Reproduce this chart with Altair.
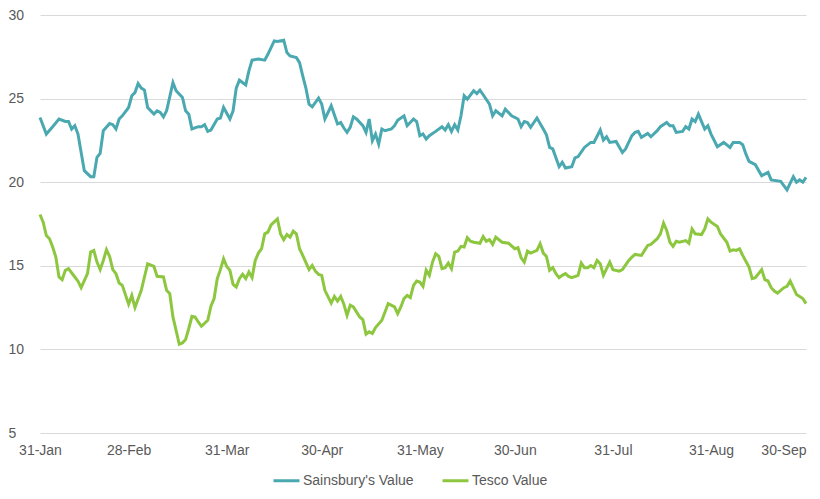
import altair as alt
import pandas as pd

# Days after 31-Jan, and values
sains_days = [0, 2, 4, 6, 8, 9, 10, 11, 12, 14, 16, 17, 18, 19, 20, 22, 23, 24, 25, 26, 28, 29, 30, 31, 32, 33, 34, 36, 37, 38, 39, 40, 42, 43, 45, 46, 47, 48, 50, 51, 52, 53, 54, 56, 57, 58, 60, 61, 62, 63, 65, 66, 67, 69, 71, 72, 74, 75, 77, 78, 79, 81, 82, 83, 84, 85, 86, 88, 89, 90, 91, 92, 94, 95, 96, 97, 98, 99, 100, 102, 103, 104, 105, 106, 107, 108, 109, 111, 112, 113, 115, 116, 118, 119, 120, 121, 122, 123, 125, 127, 128, 129, 130, 131, 132, 133, 134, 135, 137, 138, 139, 140, 142, 143, 144, 146, 147, 149, 151, 152, 153, 154, 155, 157, 159, 160, 161, 162, 164, 165, 166, 168, 169, 170, 172, 174, 175, 177, 178, 179, 180, 182, 184, 185, 187, 188, 189, 190, 192, 193, 195, 196, 198, 199, 200, 201, 203, 204, 205, 206, 207, 208, 210, 211, 212, 214, 216, 218, 219, 221, 222, 223, 224, 226, 228, 230, 231, 234, 236, 238, 239, 240, 241, 242]
sains_vals = [23.87, 22.88, 23.32, 23.78, 23.63, 23.63, 23.18, 23.38, 22.88, 20.69, 20.33, 20.33, 21.49, 21.72, 23.08, 23.51, 23.44, 23.18, 23.78, 23.97, 24.47, 25.17, 25.36, 25.90, 25.63, 25.51, 24.47, 24.07, 24.27, 24.17, 23.91, 24.27, 25.96, 25.47, 25.07, 24.27, 24.07, 23.18, 23.32, 23.32, 23.44, 23.04, 23.12, 23.78, 23.84, 24.47, 23.78, 24.27, 25.63, 26.10, 25.82, 26.66, 27.30, 27.36, 27.30, 27.65, 28.45, 28.41, 28.49, 27.75, 27.55, 27.45, 27.15, 26.36, 25.63, 24.67, 24.51, 25.03, 24.67, 23.78, 24.17, 24.57, 23.48, 23.57, 23.24, 22.98, 23.28, 23.91, 23.78, 23.38, 22.98, 23.78, 22.48, 22.88, 22.28, 23.18, 23.08, 23.18, 23.38, 23.71, 23.97, 23.38, 23.78, 23.63, 22.78, 22.88, 22.58, 22.78, 23.04, 23.32, 23.12, 23.44, 23.04, 23.44, 23.12, 23.97, 25.17, 24.97, 25.47, 25.30, 25.51, 25.23, 24.67, 23.97, 24.27, 23.97, 24.37, 23.97, 23.78, 23.32, 23.63, 23.57, 23.28, 23.84, 23.18, 22.83, 22.08, 21.99, 20.93, 21.19, 20.85, 20.93, 21.45, 21.53, 22.08, 22.38, 22.38, 23.12, 22.52, 22.72, 22.38, 22.44, 21.78, 21.99, 22.78, 22.98, 23.04, 22.68, 22.92, 22.72, 23.08, 23.32, 23.57, 23.38, 23.38, 22.98, 23.04, 23.32, 23.18, 23.78, 23.63, 24.07, 23.18, 23.38, 22.88, 22.12, 22.38, 22.08, 22.38, 22.38, 22.24, 21.69, 21.25, 21.05, 20.39, 20.59, 20.14, 20.05, 19.54, 20.33, 20.00, 20.14, 20.00, 20.29]

tesco_days = [0, 1, 2, 3, 4, 5, 6, 7, 8, 9, 11, 12, 13, 15, 16, 17, 18, 19, 20, 21, 22, 23, 24, 25, 26, 28, 29, 30, 32, 33, 34, 36, 37, 39, 40, 41, 42, 44, 45, 46, 47, 48, 49, 50, 51, 53, 54, 55, 56, 57, 58, 59, 60, 61, 62, 63, 64, 65, 66, 67, 68, 69, 70, 71, 72, 73, 75, 76, 77, 78, 79, 80, 81, 82, 83, 85, 86, 87, 88, 89, 90, 92, 93, 94, 95, 96, 97, 98, 99, 101, 102, 103, 104, 105, 106, 108, 109, 110, 112, 113, 114, 115, 116, 117, 118, 119, 120, 121, 122, 123, 124, 125, 126, 127, 128, 129, 130, 131, 132, 133, 134, 135, 136, 137, 139, 140, 141, 142, 143, 144, 146, 148, 150, 151, 152, 153, 154, 155, 157, 158, 159, 160, 161, 162, 163, 164, 165, 166, 167, 168, 170, 171, 172, 173, 174, 175, 176, 177, 178, 180, 181, 183, 184, 186, 187, 188, 190, 191, 192, 193, 195, 196, 197, 198, 199, 200, 201, 202, 204, 205, 206, 207, 209, 210, 211, 212, 214, 215, 217, 218, 219, 220, 221, 222, 224, 225, 226, 228, 229, 230, 231, 232, 233, 235, 236, 237, 238, 239, 241, 242]
tesco_vals = [18.07, 17.61, 16.81, 16.62, 16.12, 15.52, 14.33, 14.17, 14.73, 14.83, 14.33, 14.08, 13.69, 14.53, 15.82, 15.92, 15.22, 14.77, 15.32, 15.96, 15.56, 14.77, 14.53, 13.97, 13.83, 12.70, 13.23, 12.50, 13.53, 14.33, 15.12, 14.96, 14.37, 14.33, 13.53, 13.33, 11.94, 10.31, 10.39, 10.59, 11.25, 11.98, 11.94, 11.64, 11.38, 11.74, 12.58, 13.04, 14.23, 14.77, 15.42, 14.96, 14.73, 13.89, 13.73, 14.23, 14.49, 14.23, 14.63, 14.29, 15.32, 15.76, 16.02, 16.91, 17.01, 17.45, 17.81, 16.91, 16.56, 16.87, 16.71, 17.07, 16.91, 16.02, 15.62, 14.77, 15.02, 14.68, 14.49, 14.43, 13.53, 12.77, 13.17, 12.89, 13.17, 12.70, 12.04, 12.64, 12.54, 11.94, 11.78, 10.91, 11.05, 10.95, 11.31, 11.74, 12.24, 12.74, 12.54, 12.14, 12.54, 13.04, 13.23, 13.10, 13.83, 14.09, 14.03, 13.77, 14.73, 14.43, 15.22, 15.72, 15.56, 14.83, 14.89, 15.16, 14.83, 15.82, 15.88, 16.16, 16.12, 16.68, 16.47, 16.41, 16.35, 16.75, 16.47, 16.56, 16.28, 16.71, 16.41, 16.35, 16.02, 16.08, 15.48, 15.22, 15.88, 15.76, 15.92, 16.32, 15.76, 15.56, 14.73, 14.89, 14.53, 14.29, 14.43, 14.53, 14.37, 14.29, 14.43, 15.16, 14.89, 14.89, 15.02, 14.89, 15.32, 15.12, 14.43, 15.22, 14.77, 14.68, 14.77, 15.32, 15.52, 15.68, 15.62, 15.92, 16.22, 16.28, 16.62, 16.91, 17.55, 17.11, 16.41, 16.16, 16.47, 16.41, 16.51, 16.35, 17.20, 16.91, 16.87, 17.20, 17.81, 17.61, 17.35, 16.91, 16.41, 15.88, 15.96, 15.92, 16.02, 15.62, 14.92, 14.23, 14.29, 14.77, 14.17, 14.09, 13.69, 13.49, 13.37, 13.69, 13.77, 14.09, 13.69, 13.29, 13.04, 12.74]

series_names = ["Sainsbury's Value", "Tesco Value"]
series_colors = ["#4AA8B0", "#8DC63F"]
start_date = "2014-01-31"
tick_dates = ["2014-01-31", "2014-02-28", "2014-03-31", "2014-04-30", "2014-05-31",
              "2014-06-30", "2014-07-31", "2014-08-31", "2014-09-30"]
y_ticks = [5, 10, 15, 20, 25, 30]

start = pd.Timestamp(start_date)
rows = []
for d, v in zip(sains_days, sains_vals):
    rows.append({"date": start + pd.Timedelta(days=d), "value": v, "series": series_names[0]})
for d, v in zip(tesco_days, tesco_vals):
    rows.append({"date": start + pd.Timedelta(days=d), "value": v, "series": series_names[1]})
df = pd.DataFrame(rows)

def dt(s):
    t = pd.Timestamp(s)
    return alt.DateTime(year=t.year, month=t.month, date=t.day)

font = "Liberation Sans"
grey = "#595959"
last_month = pd.Timestamp(tick_dates[-1]).month - 1  # JS months are 0-based

chart = alt.Chart(df).mark_line(strokeWidth=3).encode(
    x=alt.X("date:T",
            scale=alt.Scale(domain=[dt(tick_dates[0]), dt(tick_dates[-1])]),
            axis=alt.Axis(title=None, values=[dt(s) for s in tick_dates], format="%d-%b",
                          grid=False, domain=False, ticks=False, labelPadding=10,
                          labelFontSize=14, labelColor=grey, labelFont=font,
                          labelOverlap=False, labelFlush=False,
                          labelAlign={"condition": {"test": f"month(datum.value) == {last_month}",
                                                    "value": "right"},
                                      "value": "center"})),
    y=alt.Y("value:Q",
            scale=alt.Scale(domain=[5, 30], nice=False, zero=False),
            axis=alt.Axis(title=None, values=y_ticks, grid=True, gridColor="#D9D9D9",
                          gridWidth=1, domain=False, ticks=False, labelAlign="left",
                          labelPadding=32, labelFontSize=14, labelColor=grey,
                          labelFont=font, labelBaseline="middle")),
    color=alt.Color("series:N",
                    scale=alt.Scale(domain=series_names, range=series_colors),
                    legend=alt.Legend(title=None, orient="none", direction="horizontal",
                                      legendX=232, legendY=451, symbolType="stroke",
                                      symbolStrokeWidth=3, symbolSize=676,
                                      labelFontSize=14, labelColor=grey, labelFont=font,
                                      labelOffset=2, columnPadding=22)),
).properties(
    width=766, height=418,
    autosize=alt.AutoSizeParams(type="none"),
    padding={"left": 32, "top": 7, "right": 6, "bottom": 58},
    background="white",
).configure_view(stroke=None)

chart.save("out.html", embed_options={"renderer": "svg", "actions": False})
